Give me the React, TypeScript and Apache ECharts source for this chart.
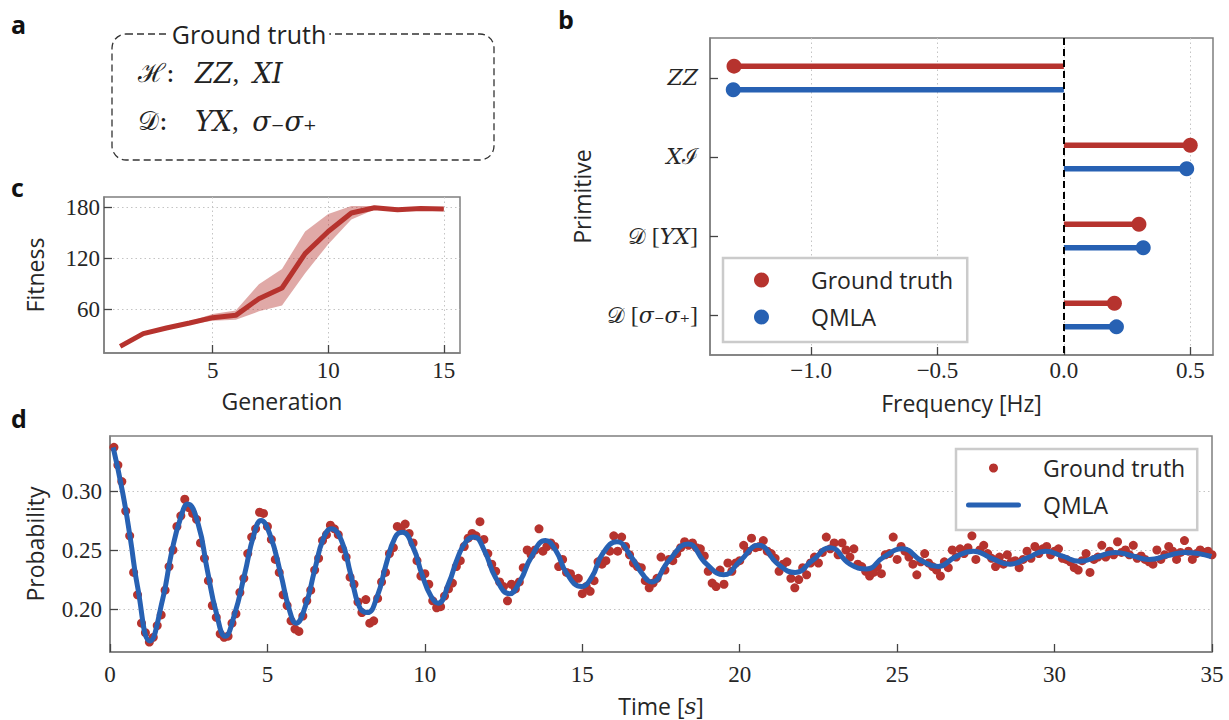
import React, { useEffect, useRef } from 'react';
import * as echarts from 'echarts';

// ---------- colours & fonts ----------
const RED = '#b6332e';
const BLUE = '#2761b3';
const BAND = 'rgba(182, 51, 46, 0.42)';
const SANS = '"Open Sans", "DejaVu Sans", sans-serif';
const SERIF = '"Liberation Serif", "DejaVu Serif", serif';
const MATH = '"DejaVu Serif", serif';
const TEXT = '#262626';
const FRAME = '#7f7f7f';
const GRIDLINE = '#c4c4c4';

// ---------- panel c: fitness ----------
const GENERATIONS = [1, 2, 3, 4, 5, 6, 7, 8, 9, 10, 11, 12, 13, 14, 15];
const FITNESS_MEAN = [16.8, 31.8, 38.4, 44.3, 50.6, 53.3, 72.9, 85.5, 126, 152, 173.7, 180, 177.6, 179, 178.4];
const FITNESS_LOW = [16, 31, 37.5, 42.5, 47, 48, 58, 65, 103, 137, 166, 178, 177, 178.3, 177.6];
const FITNESS_HIGH = [17.5, 32.5, 39.5, 46, 55, 59, 90, 108, 152, 172.5, 182, 182, 178.3, 179.6, 179.2];
const GEN_TICKS = [5, 10, 15];
const FITNESS_TICKS = [60, 120, 180];

// ---------- panel b: primitives ----------
const PRIMITIVES = ['ZZ', 'XI', 'D[YX]', 'D[σ−σ+]'];
const PRIMITIVE_LABELS: Record<string, string> = {
  'ZZ': '{m|ZZ}',
  'XI': '{m|X}{c|ℐ}',
  'D[YX]': '{c|𝒟}{r| [}{m|YX}{r|]}',
  'D[σ−σ+]': '{c|𝒟}{r| [}{m|σ}{s|₋}{m|σ}{s|₊}{r|]}',
};
const FREQ_TRUE = [-1.305, 0.5, 0.297, 0.2];
const FREQ_QMLA = [-1.308, 0.486, 0.314, 0.208];
const FREQ_TICKS = [-1.0, -0.5, 0.0, 0.5];

// ---------- panel d: dynamics ----------
const GT_DT = 0.125;
const GT_PROB = [
  0.337, 0.322, 0.308, 0.283, 0.262, 0.231, 0.212, 0.188,
  0.180, 0.172, 0.176, 0.186, 0.195, 0.216, 0.236, 0.250,
  0.270, 0.279, 0.293, 0.286, 0.281, 0.276, 0.256, 0.243,
  0.224, 0.203, 0.193, 0.179, 0.176, 0.177, 0.188, 0.196,
  0.214, 0.226, 0.247, 0.261, 0.268, 0.282, 0.281, 0.270,
  0.259, 0.242, 0.231, 0.212, 0.203, 0.190, 0.183, 0.181,
  0.194, 0.207, 0.216, 0.233, 0.243, 0.258, 0.263, 0.271,
  0.268, 0.263, 0.251, 0.244, 0.227, 0.221, 0.206, 0.197,
  0.208, 0.188, 0.190, 0.209, 0.223, 0.231, 0.247, 0.252,
  0.270, 0.267, 0.272, 0.264, 0.256, 0.241, 0.228, 0.230,
  0.221, 0.207, 0.201, 0.202, 0.211, 0.217, 0.222, 0.236,
  0.241, 0.253, 0.260, 0.264, 0.262, 0.274, 0.259, 0.247,
  0.238, 0.232, 0.223, 0.219, 0.207, 0.221, 0.217, 0.223,
  0.235, 0.250, 0.246, 0.250, 0.268, 0.249, 0.253, 0.256,
  0.253, 0.236, 0.242, 0.231, 0.230, 0.225, 0.226, 0.213,
  0.219, 0.215, 0.224, 0.240, 0.238, 0.241, 0.249, 0.262,
  0.249, 0.261, 0.253, 0.246, 0.239, 0.236, 0.235, 0.224,
  0.218, 0.222, 0.226, 0.244, 0.233, 0.242, 0.241, 0.247,
  0.252, 0.257, 0.254, 0.256, 0.252, 0.251, 0.245, 0.232,
  0.222, 0.219, 0.233, 0.221, 0.239, 0.232, 0.239, 0.241,
  0.254, 0.249, 0.260, 0.252, 0.253, 0.258, 0.249, 0.247,
  0.243, 0.232, 0.238, 0.240, 0.226, 0.218, 0.225, 0.235,
  0.229, 0.239, 0.244, 0.239, 0.248, 0.261, 0.251, 0.256,
  0.246, 0.256, 0.250, 0.244, 0.251, 0.238, 0.236, 0.232,
  0.228, 0.231, 0.236, 0.230, 0.246, 0.247, 0.261, 0.242,
  0.253, 0.249, 0.244, 0.238, 0.229, 0.240, 0.247, 0.239,
  0.236, 0.233, 0.228, 0.240, 0.235, 0.250, 0.244, 0.251,
  0.247, 0.252, 0.262, 0.242, 0.250, 0.254, 0.247, 0.243,
  0.236, 0.244, 0.238, 0.246, 0.240, 0.241, 0.235, 0.242,
  0.249, 0.243, 0.253, 0.247, 0.251, 0.253, 0.246, 0.249,
  0.251, 0.243, 0.242, 0.240, 0.235, 0.233, 0.241, 0.247,
  0.231, 0.242, 0.244, 0.254, 0.244, 0.249, 0.246, 0.257,
  0.248, 0.250, 0.246, 0.254, 0.243, 0.245, 0.242, 0.240,
  0.238, 0.250, 0.242, 0.246, 0.253, 0.249, 0.242, 0.248,
  0.258, 0.249, 0.242, 0.247, 0.250, 0.248, 0.249, 0.246,
];
const QMLA_T = [
  0.1, 0.4, 0.65, 0.875, 1.27, 1.67, 1.95, 2.24, 2.47, 2.8, 3.09, 3.375, 3.66, 3.94, 4.28, 4.57, 4.8,
  5.08, 5.42, 5.7, 5.91, 6.2, 6.5, 6.78, 7.03, 7.35, 7.64, 7.92, 8.17, 8.49, 8.77, 9.06, 9.28,
  9.63, 9.9, 10.19, 10.42, 10.76, 11.05, 11.33, 11.56, 11.9, 12.24, 12.69, 13.03, 13.38, 13.83,
  14.17, 14.51, 14.97, 15.3, 15.65, 16.1, 16.56, 16.9, 17.2, 17.75, 18.35, 18.95, 19.49, 20.02,
  20.6, 21.22, 21.76, 22.3, 22.87, 23.5, 24.03, 24.57, 25.17, 25.77, 26.3, 26.84, 27.42, 28.04,
  28.58, 29.15, 29.71, 30.25, 30.79, 31.36, 31.93, 32.47, 33.0, 33.57, 34.14, 34.98,
];
const QMLA_P = [
  0.337, 0.299, 0.259, 0.219, 0.173, 0.208, 0.247, 0.277, 0.289, 0.272, 0.233, 0.197, 0.177, 0.194, 0.23, 0.263, 0.275,
  0.263, 0.23, 0.199, 0.188, 0.202, 0.233, 0.26, 0.268, 0.258, 0.23, 0.202, 0.197, 0.211, 0.238, 0.261, 0.265,
  0.252, 0.23, 0.211, 0.205, 0.222, 0.244, 0.258, 0.261, 0.249, 0.227, 0.213, 0.224, 0.244, 0.258,
  0.249, 0.23, 0.219, 0.227, 0.247, 0.257, 0.244, 0.23, 0.223, 0.241, 0.255, 0.238, 0.229, 0.241,
  0.254, 0.238, 0.231, 0.241, 0.252, 0.238, 0.234, 0.244, 0.251, 0.241, 0.236, 0.244, 0.249, 0.2425,
  0.238, 0.2435, 0.249, 0.2448, 0.2405, 0.2443, 0.248, 0.245, 0.242, 0.245, 0.248, 0.2445,
];
const PROB_TICKS = [0.2, 0.25, 0.3];

const LEGEND_TEXT: Record<string, string> = {
  'gt-b': 'Ground truth',
  'qmla-b': 'QMLA',
  'gt-d': 'Ground truth',
  'qmla-d': 'QMLA',
};

const LINE_ICON = 'path://M2.5,0H52.5A2.5,2.5 0 0 1 52.5,5H2.5A2.5,2.5 0 0 1 2.5,0Z';

const tickStyle = { show: true, inside: true, length: 8, lineStyle: { color: '#444', width: 1.3 } };
const lineStyleAxis = { show: true, onZero: false, lineStyle: { color: FRAME, width: 1.5 } };
const dotted = { show: true, lineStyle: { color: GRIDLINE, type: [1.5, 3], width: 1 } };
const numLabel = { color: TEXT, fontFamily: SERIF, fontSize: 23 };
const nameStyle = {
  color: TEXT,
  fontFamily: SANS,
  fontSize: 23,
  rich: { i: { fontFamily: MATH, fontStyle: 'italic', fontSize: 23, color: TEXT } },
};
const mathRich = {
  m: { fontFamily: MATH, fontStyle: 'italic', fontSize: 22, color: TEXT },
  c: { fontFamily: MATH, fontSize: 22, color: TEXT },
  r: { fontFamily: SERIF, fontSize: 24, color: TEXT },
  s: { fontFamily: MATH, fontSize: 20, color: TEXT },
};

const makeLollipop = (offset: number, color: string) => (params: any, api: any) => {
  const v = api.value(0);
  const row = api.value(1) + offset;
  const start = api.coord([0, row]);
  const end = api.coord([v, row]);
  return {
    type: 'group',
    children: [
      { type: 'line', shape: { x1: start[0], y1: start[1], x2: end[0], y2: end[1] }, style: { stroke: color, lineWidth: 5.5 } },
      { type: 'circle', shape: { cx: end[0], cy: end[1], r: 7.5 }, style: { fill: color } },
    ],
  };
};

// one polygon spanning the whole uncertainty band, drawn once
const renderBand = (params: any, api: any) => {
  if (params.dataIndex !== 0) return null;
  const upper = GENERATIONS.map((g, i) => api.coord([g, FITNESS_HIGH[i]]));
  const lower = GENERATIONS.map((g, i) => api.coord([g, FITNESS_LOW[i]])).reverse();
  return { type: 'polygon', shape: { points: upper.concat(lower) }, style: { fill: BAND } };
};

function buildOption(): any {
  const gtTimes = GT_PROB.map((_, i) => +(GT_DT * (i + 1)).toFixed(3));
  const legendText = {
    fontFamily: SANS,
    fontSize: 23,
    color: TEXT,
    lineHeight: 26,
  };
  return {
    animation: false,
    backgroundColor: '#fff',
    textStyle: { fontFamily: SANS },
    grid: [
      { left: 104, top: 197, width: 356, height: 156, show: true, borderColor: FRAME, borderWidth: 1.5 },
      { left: 710, top: 38, width: 503, height: 317, show: true, borderColor: FRAME, borderWidth: 1.5 },
      { left: 110, top: 436, width: 1102, height: 216, show: true, borderColor: FRAME, borderWidth: 1.5 },
    ],
    xAxis: [
      {
        gridIndex: 0, type: 'value', min: 0.3, max: 15.7,
        name: 'Generation', nameLocation: 'middle', nameGap: 36, nameTextStyle: nameStyle,
        axisLine: lineStyleAxis,
        axisTick: { ...tickStyle, customValues: GEN_TICKS },
        axisLabel: { ...numLabel, margin: 6, customValues: GEN_TICKS, formatter: (v: number) => String(v) },
        splitLine: dotted,
      },
      {
        gridIndex: 1, type: 'value', min: -1.4, max: 0.59,
        name: 'Frequency [Hz]', nameLocation: 'middle', nameGap: 36, nameTextStyle: nameStyle,
        axisLine: lineStyleAxis,
        axisTick: { ...tickStyle, customValues: FREQ_TICKS },
        axisLabel: {
          ...numLabel, margin: 4, customValues: FREQ_TICKS,
          formatter: (v: number) => v.toFixed(1).replace('-', '\u2212'),
        },
        splitLine: dotted,
      },
      {
        gridIndex: 2, type: 'value', min: 0, max: 35, interval: 5,
        name: 'Time [{i|s}]', nameLocation: 'middle', nameGap: 42, nameTextStyle: nameStyle,
        axisLine: lineStyleAxis,
        axisTick: tickStyle,
        axisLabel: { ...numLabel, margin: 11, formatter: (v: number) => String(v) },
        splitLine: { show: false },
      },
    ],
    yAxis: [
      {
        gridIndex: 0, type: 'value', min: 9, max: 192.6,
        name: 'Fitness', nameLocation: 'middle', nameGap: 58, nameTextStyle: nameStyle,
        axisLine: lineStyleAxis,
        axisTick: { ...tickStyle, customValues: FITNESS_TICKS },
        axisLabel: { ...numLabel, margin: 4, customValues: FITNESS_TICKS, formatter: (v: number) => String(v) },
        splitLine: dotted,
      },
      {
        gridIndex: 1, type: 'value', min: -0.506, max: 3.506, inverse: true,
        name: 'Primitive', nameLocation: 'middle', nameGap: 117, nameTextStyle: nameStyle,
        axisLine: lineStyleAxis,
        axisTick: { ...tickStyle, customValues: [0, 1, 2, 3] },
        axisLabel: {
          margin: 12, customValues: [0, 1, 2, 3], rich: mathRich,
          formatter: (v: number) => PRIMITIVE_LABELS[PRIMITIVES[Math.round(v)]] || '',
        },
        splitLine: { show: false },
      },
      {
        gridIndex: 2, type: 'value', min: 0.1636, max: 0.3466,
        name: 'Probability', nameLocation: 'middle', nameGap: 64, nameTextStyle: nameStyle,
        axisLine: lineStyleAxis,
        axisTick: { ...tickStyle, customValues: PROB_TICKS },
        axisLabel: { ...numLabel, margin: 8, customValues: PROB_TICKS, formatter: (v: number) => v.toFixed(2) },
        splitLine: dotted,
      },
    ],
    legend: [
      {
        orient: 'vertical', left: 723, top: 258,
        data: [{ name: 'gt-b', icon: 'circle' }, { name: 'qmla-b', icon: 'circle' }],
        itemWidth: 15, itemHeight: 15, itemGap: 11,
        padding: [9, 14, 12, 31],
        backgroundColor: '#fff', borderColor: '#cbcbcb', borderWidth: 2.5, borderRadius: 0,
        selectedMode: false,
        formatter: (n: string) => LEGEND_TEXT[n],
        textStyle: { ...legendText, padding: [0, 0, 0, 37] },
      },
      {
        orient: 'vertical', left: 956, top: 449,
        data: [{ name: 'gt-d', icon: 'circle' }, { name: 'qmla-d', icon: LINE_ICON }],
        itemWidth: 55, itemHeight: 9, itemGap: 11,
        padding: [6, 12, 12, 10],
        backgroundColor: '#fff', borderColor: '#cbcbcb', borderWidth: 2.5, borderRadius: 0,
        selectedMode: false,
        formatter: (n: string) => LEGEND_TEXT[n],
        textStyle: { ...legendText, padding: [0, 0, 0, 17] },
      },
    ],
    graphic: [
      { type: 'text', left: 11, top: 11, style: { text: 'a', font: `bold 25px ${SANS}`, fill: '#111' } },
      { type: 'text', left: 558, top: 6, style: { text: 'b', font: `bold 25px ${SANS}`, fill: '#111' } },
      { type: 'text', left: 11, top: 174, style: { text: 'c', font: `bold 25px ${SANS}`, fill: '#111' } },
      { type: 'text', left: 11, top: 405, style: { text: 'd', font: `bold 25px ${SANS}`, fill: '#111' } },
      {
        type: 'rect', shape: { x: 112, y: 34, width: 382, height: 126, r: 14 },
        style: { fill: 'none', stroke: '#333', lineWidth: 1.3, lineDash: [7, 4] },
      },
      {
        type: 'text', x: 249, y: 34,
        style: {
          text: 'Ground truth', font: `25px ${SANS}`, fill: '#222', align: 'center', verticalAlign: 'middle',
          backgroundColor: '#fff', padding: [0, 3],
        },
      },
      {
        type: 'text', x: 138, y: 73,
        style: { text: 'ℋ:', font: `26px ${MATH}`, fill: '#222', align: 'left', verticalAlign: 'middle' },
      },
      {
        type: 'text', x: 195, y: 73,
        style: {
          text: '{m|ZZ}{p|,  }{m|XI}', align: 'left', verticalAlign: 'middle',
          rich: {
            m: { fontFamily: MATH, fontStyle: 'italic', fontSize: 27, fill: '#222' },
            p: { fontFamily: SERIF, fontSize: 27, fill: '#222' },
          },
        },
      },
      {
        type: 'text', x: 138, y: 121,
        style: { text: '𝒟:', font: `26px ${MATH}`, fill: '#222', align: 'left', verticalAlign: 'middle' },
      },
      {
        type: 'text', x: 195, y: 121,
        style: {
          text: '{m|YX}{p|,  }{m|σ}{s|₋}{m|σ}{s|₊}', align: 'left', verticalAlign: 'middle',
          rich: {
            m: { fontFamily: MATH, fontStyle: 'italic', fontSize: 27, fill: '#222' },
            p: { fontFamily: SERIF, fontSize: 27, fill: '#222' },
            s: { fontFamily: MATH, fontSize: 26, fill: '#222' },
          },
        },
      },
    ],
    series: [
      // panel c
      {
        name: 'band', type: 'custom', coordinateSystem: 'cartesian2d', xAxisIndex: 0, yAxisIndex: 0,
        data: GENERATIONS.map((g, i) => [g, FITNESS_LOW[i], FITNESS_HIGH[i]]),
        encode: { x: 0, y: [1, 2] },
        renderItem: renderBand, silent: true, z: 2,
      },
      {
        name: 'fitness', type: 'line', xAxisIndex: 0, yAxisIndex: 0, symbol: 'none',
        data: GENERATIONS.map((g, i) => [g, FITNESS_MEAN[i]]),
        lineStyle: { color: RED, width: 5 }, itemStyle: { color: RED }, z: 5,
      },
      // panel b
      {
        name: 'zero', type: 'line', xAxisIndex: 1, yAxisIndex: 1, data: [],
        markLine: {
          silent: true, symbol: 'none', label: { show: false },
          lineStyle: { color: '#000', type: [7, 4], width: 2 },
          data: [{ xAxis: 0 }],
        },
      },
      {
        name: 'gt-b', type: 'custom', coordinateSystem: 'cartesian2d', xAxisIndex: 1, yAxisIndex: 1,
        itemStyle: { color: RED },
        data: FREQ_TRUE.map((f, i) => [f, i]),
        renderItem: makeLollipop(-0.15, RED), z: 4,
      },
      {
        name: 'qmla-b', type: 'custom', coordinateSystem: 'cartesian2d', xAxisIndex: 1, yAxisIndex: 1,
        itemStyle: { color: BLUE },
        data: FREQ_QMLA.map((f, i) => [f, i]),
        renderItem: makeLollipop(0.15, BLUE), z: 4,
      },
      // panel d
      {
        name: 'gt-d', type: 'scatter', xAxisIndex: 2, yAxisIndex: 2, symbol: 'circle', symbolSize: 9,
        itemStyle: { color: RED, opacity: 1 },
        data: gtTimes.map((t, i) => [t, GT_PROB[i]]),
      },
      {
        name: 'qmla-d', type: 'line', xAxisIndex: 2, yAxisIndex: 2, symbol: 'none', smooth: 0.5,
        lineStyle: { color: BLUE, width: 5 }, itemStyle: { color: BLUE }, z: 5,
        data: QMLA_T.map((t, i) => [t, QMLA_P[i]]),
      },
    ],
  };
}

export default function App() {
  const ref = useRef<HTMLDivElement>(null);
  useEffect(() => {
    if (!ref.current) return;
    const chart = echarts.init(ref.current, null, { renderer: 'svg' });
    chart.setOption(buildOption());
    return () => chart.dispose();
  }, []);
  return (
    <div
      ref={ref}
      style={{ position: 'fixed', left: 0, top: 0, width: 1229, height: 720, background: '#fff' }}
    />
  );
}
